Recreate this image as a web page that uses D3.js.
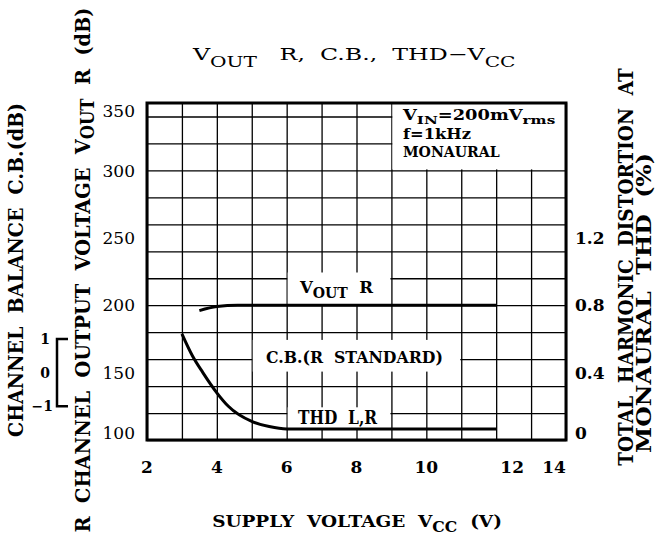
<!DOCTYPE html>
<html lang="en">
<head>
<meta charset="UTF-8">
<title>VOUT R, C.B., THD - VCC</title>
<script src="https://cdn.jsdelivr.net/npm/d3@7"></script>
<style>
  body { margin: 0; background: #fff; }
  svg { display: block; font-family: "DejaVu Serif", serif; }
  text { white-space: pre; fill: #000; }
  .grid line { stroke: #000; stroke-width: 1.3px; }
  .grid .domain { display: none; }
  .curve { fill: none; stroke: #000; stroke-width: 3px; }
</style>
</head>
<body>
<script>
// axis ticks
const xTicks = [2, 4, 6, 8, 10, 12, 14];
const voutTicks = [100, 150, 200, 250, 300, 350];
const thdTicks = [0, 0.4, 0.8, 1.2];
const cbTicks = [-1, 0, 1];

// Vout R (dB) against supply voltage
const voutVcc = [3.5, 4, 4.6, 5, 12];
const voutVal = [196, 199, 200, 200, 200];

// THD (%) against supply voltage
const thdVcc = [3, 3.3, 3.6, 4, 4.33, 5, 5.5, 6, 12];
const thdVal = [0.63, 0.5, 0.4, 0.28, 0.2, 0.11, 0.08, 0.066, 0.065];

const width = 669, height = 541;
const margins = {top: 103, bottom: 101, left: 147, right: 103};

const svg = d3.select("body").append("svg")
    .attr("width", width)
    .attr("height", height);

// step 1 scales
const xScale = d3.scaleLinear().domain([2, 14]).range([margins.left, width - margins.right]);
const yScale = d3.scaleLinear().domain([100, 350]).range([height - margins.bottom, margins.top]);
const thdScale = d3.scaleLinear().domain([0, 2]).range([height - margins.bottom, margins.top]);
const cbScale = d3.scaleLinear().domain([-1, 1]).range([yScale(125), yScale(175)]);

const x0 = xScale(2), x1 = xScale(14), yb = yScale(100), yt = yScale(350);

// step 2 grid
svg.append("g").attr("class", "grid")
    .attr("transform", `translate(0,${yb})`)
    .call(d3.axisBottom(xScale).ticks(12).tickSize(-(yb - yt)).tickFormat(""));
svg.append("g").attr("class", "grid")
    .attr("transform", `translate(${x0},0)`)
    .call(d3.axisLeft(yScale).ticks(10).tickSize(-(x1 - x0)).tickFormat(""));

// white boxes behind the labels
const boxes = [
    {a: 9, b: 14, lo: 300, hi: 350},
    {a: 6, b: 9, lo: 200, hi: 225},
    {a: 5, b: 11, lo: 150, hi: 175},
    {a: 6, b: 9, lo: 107, hi: 125}
];
svg.append("g").selectAll("rect").data(boxes).enter().append("rect")
    .attr("x", d => xScale(d.a) + 1)
    .attr("y", d => yScale(d.hi) + 1)
    .attr("width", d => xScale(d.b) - xScale(d.a) - 2)
    .attr("height", d => yScale(d.lo) - yScale(d.hi) - 2)
    .attr("fill", "#fff");

// frame
svg.append("rect")
    .attr("x", x0).attr("y", yt)
    .attr("width", x1 - x0).attr("height", yb - yt)
    .attr("fill", "none").attr("stroke", "#000").attr("stroke-width", 3);

// step 3 curves
const voutLine = d3.line().curve(d3.curveMonotoneX)
    .x((d, i) => xScale(voutVcc[i]))
    .y(d => yScale(d));
svg.append("path").datum(voutVal).attr("class", "curve").attr("d", voutLine);

const thdLine = d3.line().curve(d3.curveMonotoneX)
    .x((d, i) => xScale(thdVcc[i]))
    .y(d => thdScale(d));
svg.append("path").datum(thdVal).attr("class", "curve").attr("d", thdLine);

// step 4 text helper: parts are [string, isSubscript]
function label(px, py, parts, opt) {
    const g = svg.append("g")
        .attr("transform", `translate(${px},${py})` + (opt.rot ? " rotate(-90)" : ""));
    const t = g.append("text")
        .attr("font-size", opt.size)
        .attr("font-weight", opt.bold ? "bold" : "normal")
        .attr("text-anchor", opt.anchor || "start");
    let down = false;
    parts.forEach(p => {
        const sub = !!p[1];
        const s = t.append("tspan").text(p[0]);
        if (sub) s.attr("font-size", opt.size * 0.85);
        if (sub !== down) s.attr("dy", sub ? opt.shift : -opt.shift);
        down = sub;
    });
    if (opt.w) {
        const w = t.node().getBBox().width;
        t.attr("transform", `scale(${opt.w / w},1)`);
    }
    return t;
}

// title
label(193, 60, [["V"], ["OUT", 1], ["   R,  C.B.,  THD−V"], ["CC", 1]],
    {size: 17, shift: 7, w: 324});

// conditions box
label(403, 120, [["V"], ["IN", 1], ["=200mV"], ["rms", 1]], {size: 14, bold: true, shift: 4, w: 154});
label(403, 139, [["f=1kHz"]], {size: 14, bold: true, w: 68});
label(403, 157, [["MONAURAL"]], {size: 14, bold: true, w: 97});

// curve labels
label(300, 293, [["V"], ["OUT", 1], ["  R"]], {size: 17, bold: true, shift: 5, w: 75});
label(266, 363, [["C.B.(R  STANDARD)"]], {size: 17, bold: true, w: 177});
label(298, 424, [["THD  L,R"]], {size: 18, bold: true, w: 80});

// step 5 axis tick labels
const xShift = {12: 16, 14: -12};
svg.append("g").selectAll("text").data(xTicks).enter().append("text")
    .attr("x", d => xScale(d) + (xShift[d] || 0))
    .attr("y", 473)
    .attr("text-anchor", "middle")
    .attr("font-size", 17).attr("font-weight", "bold")
    .text(d => d);

const clampY = v => Math.min(Math.max(v, yt + 8), yb - 7);
svg.append("g").selectAll("text").data(voutTicks).enter().append("text")
    .attr("x", 135)
    .attr("y", d => clampY(yScale(d)))
    .attr("dy", "0.36em")
    .attr("text-anchor", "end")
    .attr("font-size", 17)
    .text(d => d);

svg.append("g").selectAll("text").data(thdTicks).enter().append("text")
    .attr("x", 575)
    .attr("y", d => clampY(thdScale(d)))
    .attr("dy", "0.36em")
    .attr("font-size", 17).attr("font-weight", "bold")
    .text(d => d === 0 ? "0" : d3.format(".1f")(d));

// channel balance bracket
const cb = svg.append("g");
cb.append("path")
    .attr("d", `M68,${cbScale(1)}H57V${cbScale(-1)}H68`)
    .attr("fill", "none").attr("stroke", "#000").attr("stroke-width", 2.5);
cb.selectAll("text").data(cbTicks).enter().append("text")
    .attr("x", d => d < 0 ? 53 : 50)
    .attr("y", d => cbScale(d))
    .attr("dy", "0.36em")
    .attr("text-anchor", "end")
    .attr("font-size", 14).attr("font-weight", "bold")
    .text(d => d < 0 ? "−1" : d);

// step 6 axis titles
label(357, 527, [["SUPPLY  VOLTAGE  V"], ["CC", 1], ["  (V)"]],
    {size: 17, bold: true, shift: 5, w: 290, anchor: "middle"});
label(23, 270, [["CHANNEL  BALANCE  C.B.(dB)"]],
    {size: 21, bold: true, rot: true, w: 334, anchor: "middle"});
label(90, 270, [["R  CHANNEL  OUTPUT  VOLTAGE  V"], ["OUT", 1], ["  R  (dB)"]],
    {size: 21, bold: true, rot: true, shift: 4, w: 525, anchor: "middle"});
label(633, 267, [["TOTAL  HARMONIC  DISTORTION  AT"]],
    {size: 21, bold: true, rot: true, w: 398, anchor: "middle"});
label(651, 303, [["MONAURAL  THD  (%)"]],
    {size: 21, bold: true, rot: true, w: 300, anchor: "middle"});
</script>
</body>
</html>
